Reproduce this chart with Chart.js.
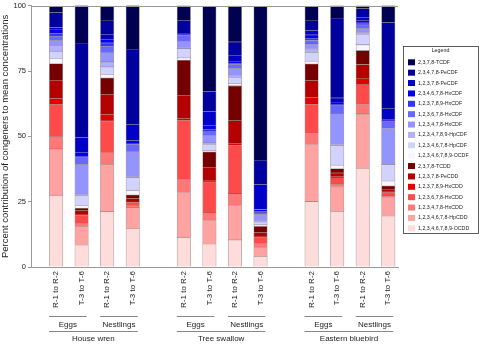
<!DOCTYPE html>
<html>
<head>
<meta charset="utf-8">
<script src="https://cdn.jsdelivr.net/npm/chart.js@4.4.1/dist/chart.umd.min.js"></script>
<style>
  html, body { margin: 0; padding: 0; background: #fff; }
  #wrap { width: 480px; height: 344px; }
</style>
</head>
<body>
<div id="wrap"><canvas id="chart-congeners"></canvas></div>
<script>
// grouping of the 12 bars: species > stage > period
const species = ['House wren', 'Tree swallow', 'Eastern bluebird'];
const stages = ['Eggs', 'Nestlings'];
const periods = ['R-1 to R-2', 'T-3 to T-6'];

// percent contribution per bar, left to right (HW egg R, HW egg T, HW nest R, HW nest T, TS ..., EB ...)
const ocdd        = [27.5, 8.5, 21.3, 14.8, 11.4, 8.9, 10.4, 4.1, 25.1, 21.3, 37.7, 19.6];
const hpcdd       = [17.7, 7.1, 18.0, 8.0, 17.1, 9.1, 13.3, 3.5, 21.8, 9.4, 20.9, 7.0];
const hxcdd123478 = [4.8, 1.1, 4.4, 0.6, 5.1, 2.7, 4.4, 1.5, 4.4, 1.0, 3.8, 0.6];
const hxcdd123678 = [12.3, 3.2, 12.3, 1.5, 22.7, 11.9, 18.4, 2.3, 11.1, 2.5, 7.5, 1.3];
const hxcdd123789 = [2.3, 0.4, 2.5, 0.4, 0.6, 0.4, 1.0, 0.3, 2.5, 0.4, 2.3, 0.3];
const pecdd       = [7.0, 1.3, 7.6, 1.0, 8.9, 5.3, 8.6, 1.6, 6.6, 1.5, 5.3, 1.0];
const tcdd        = [6.3, 1.0, 6.3, 1.3, 13.4, 5.8, 13.3, 2.3, 6.3, 1.6, 5.4, 1.3];
const ocdf        = [1.9, 0.9, 1.3, 1.8, 0.9, 0.6, 0.9, 0.6, 1.0, 1.3, 2.2, 1.9];
const hpcdf1234678 = [2.8, 4.0, 2.9, 4.8, 3.5, 2.2, 2.2, 1.1, 3.4, 7.6, 3.9, 6.3];
const hpcdf1234789 = [2.3, 0.4, 1.9, 0.4, 0.5, 0.6, 0.8, 0.4, 1.3, 0.3, 0.9, 0.4];
const hxcdf123478 = [1.9, 11.4, 3.5, 9.5, 2.3, 2.9, 2.8, 2.5, 1.9, 11.8, 1.5, 13.3];
const hxcdf123678 = [1.5, 2.9, 2.5, 2.8, 2.3, 1.8, 1.5, 0.6, 1.3, 3.4, 1.3, 2.8];
const hxcdf123789 = [1.3, 0.3, 1.3, 0.3, 0.2, 0.4, 0.4, 0.6, 0.9, 0.2, 0.8, 0.2];
const hxcdf234678 = [1.6, 1.5, 1.5, 1.3, 0.2, 1.6, 0.6, 0.6, 1.3, 0.9, 0.9, 0.6];
const pecdf12378  = [0.6, 5.7, 1.9, 6.1, 0.3, 5.3, 2.5, 9.7, 1.6, 1.6, 1.3, 4.2];
const pecdf23478  = [5.7, 36.1, 5.1, 28.7, 5.1, 7.8, 5.1, 9.2, 3.8, 30.6, 3.2, 32.9];
const tcdf        = [2.5, 14.6, 5.7, 17.1, 5.7, 32.7, 13.9, 58.9, 5.7, 4.8, 1.3, 6.6];

// stacking order, bottom to top
const congenerLabels = [
  '1,2,3,4,6,7,8,9-OCDD', '1,2,3,4,6,7,8-HpCDD', '1,2,3,4,7,8-HxCDD', '1,2,3,6,7,8-HxCDD',
  '1,2,3,7,8,9-HxCDD', '1,2,3,7,8-PeCDD', '2,3,7,8-TCDD', '1,2,3,4,6,7,8,9-OCDF',
  '1,2,3,4,6,7,8-HpCDF', '1,2,3,4,7,8,9-HpCDF', '1,2,3,4,7,8-HxCDF', '1,2,3,6,7,8-HxCDF',
  '1,2,3,7,8,9-HxCDF', '2,3,4,6,7,8-HxCDF', '1,2,3,7,8-PeCDF', '2,3,4,7,8-PeCDF', '2,3,7,8-TCDF'
];
const congenerValues = [
  ocdd, hpcdd, hxcdd123478, hxcdd123678, hxcdd123789, pecdd, tcdd, ocdf,
  hpcdf1234678, hpcdf1234789, hxcdf123478, hxcdf123678, hxcdf123789, hxcdf234678,
  pecdf12378, pecdf23478, tcdf
];
const congenerColors = [
  '#ffdcdc', '#ffa2a2', '#ff7878', '#ff4a4a', '#e00000', '#b40000', '#740000', '#f6f6ff',
  '#d2d2ff', '#b0b0ff', '#9494ff', '#6868ff', '#3434ff', '#0000f2', '#0000c8', '#00009e', '#000052'
];

const FONT = "'Liberation Sans', Arial, sans-serif";

// one empty slot between the species groups
const slots = [];
for (let i = 0; i < 12; i++) slots.push(i + Math.floor(i / 4));

const datasets = congenerLabels.map((label, k) => ({
  label: label,
  data: congenerValues[k].map((v, i) => ({ x: slots[i], y: v })),
  backgroundColor: congenerColors[k],
  borderColor: 'rgba(70,40,40,0.45)',
  borderWidth: { top: 0.8, left: 0.7, right: 0.7, bottom: 0 },
  borderSkipped: false,
  barThickness: 13.5
}));

const decorations = {
  id: 'decorations',
  afterDraw(chart) {
    const ctx = chart.ctx;
    const area = chart.chartArea;
    const x = chart.scales.x;
    ctx.save();

    // top frame line
    ctx.strokeStyle = '#999';
    ctx.lineWidth = 1;
    ctx.beginPath();
    ctx.moveTo(area.left, Math.round(area.top) + 0.5);
    ctx.lineTo(area.right, Math.round(area.top) + 0.5);
    ctx.stroke();

    // stage and species labels under the rotated ticks
    ctx.fillStyle = '#222';
    ctx.textAlign = 'center';
    ctx.textBaseline = 'middle';
    ctx.strokeStyle = '#888';
    species.forEach((sp, s) => {
      stages.forEach((st, t) => {
        const i0 = s * 4 + t * 2;
        const x1 = x.getPixelForValue(slots[i0]) - 7;
        const x2 = x.getPixelForValue(slots[i0 + 1]) + 5;
        ctx.beginPath();
        ctx.moveTo(x1, 316.5);
        ctx.lineTo(x2, 316.5);
        ctx.stroke();
        ctx.font = '8px ' + FONT;
        ctx.fillText(st, (x1 + x2) / 2, 325);
      });
      const a = x.getPixelForValue(slots[s * 4]) - 7;
      const b = x.getPixelForValue(slots[s * 4 + 3]) + 5;
      ctx.beginPath();
      ctx.moveTo(a, 331.5);
      ctx.lineTo(b, 331.5);
      ctx.stroke();
      ctx.font = '8px ' + FONT;
      ctx.fillText(sp, (a + b) / 2, 339);
    });

    // boxed legend, top entry = top of stack
    const lx = area.right + 5, ly = 46, lw = 75, lh = 187;
    ctx.strokeStyle = '#333';
    ctx.lineWidth = 0.8;
    ctx.strokeRect(lx + 0.5, ly + 0.5, lw, lh);
    ctx.font = '5.3px ' + FONT;
    ctx.fillStyle = '#222';
    ctx.fillText('Legend', lx + lw / 2, ly + 5);
    ctx.textAlign = 'left';
    const items = chart.data.datasets.slice().reverse();
    items.forEach((ds, k) => {
      const yc = 62.3 + k * 10.375;
      ctx.fillStyle = ds.backgroundColor;
      ctx.fillRect(lx + 5, yc - 3, 7, 6);
      ctx.fillStyle = '#222';
      ctx.fillText(ds.label, lx + 15, yc);
    });
    ctx.restore();
  }
};

const ctx = document.getElementById('chart-congeners').getContext('2d');
new Chart(ctx, {
  type: 'bar',
  data: { datasets: datasets },
  options: {
    responsive: true,
    maintainAspectRatio: false,
    animation: false,
    layout: { padding: { left: 0, top: 3, right: 82, bottom: 0 } },
    plugins: {
      legend: { display: false },
      tooltip: { enabled: false }
    },
    scales: {
      x: {
        type: 'linear',
        stacked: true,
        offset: false,
        min: -0.98,
        max: 13.38,
        afterBuildTicks: (scale) => {
          scale.ticks = slots.map(v => ({ value: v }));
        },
        ticks: {
          autoSkip: false,
          minRotation: 90,
          maxRotation: 90,
          padding: 4,
          color: '#222',
          font: { family: FONT, size: 8 },
          callback: (value, index) => periods[index % 2]
        },
        grid: { display: false, drawTicks: false },
        border: { display: true, color: '#999', width: 1 },
        afterFit: (scale) => { scale.height = 77; }
      },
      y: {
        stacked: true,
        min: 0,
        max: 100,
        ticks: {
          stepSize: 25,
          padding: 2,
          color: '#222',
          font: { family: FONT, size: 7.5, lineHeight: 1 }
        },
        grid: { drawOnChartArea: false, tickLength: 3, color: '#999' },
        border: { color: '#999' },
        title: {
          display: true,
          text: 'Percent contribution of congeners to mean concentrations',
          color: '#222',
          padding: 0,
          font: { family: FONT, size: 9.5, lineHeight: 1.1 }
        },
        afterFit: (scale) => { scale.width = 31; }
      }
    }
  },
  plugins: [decorations]
});
</script>
</body>
</html>
